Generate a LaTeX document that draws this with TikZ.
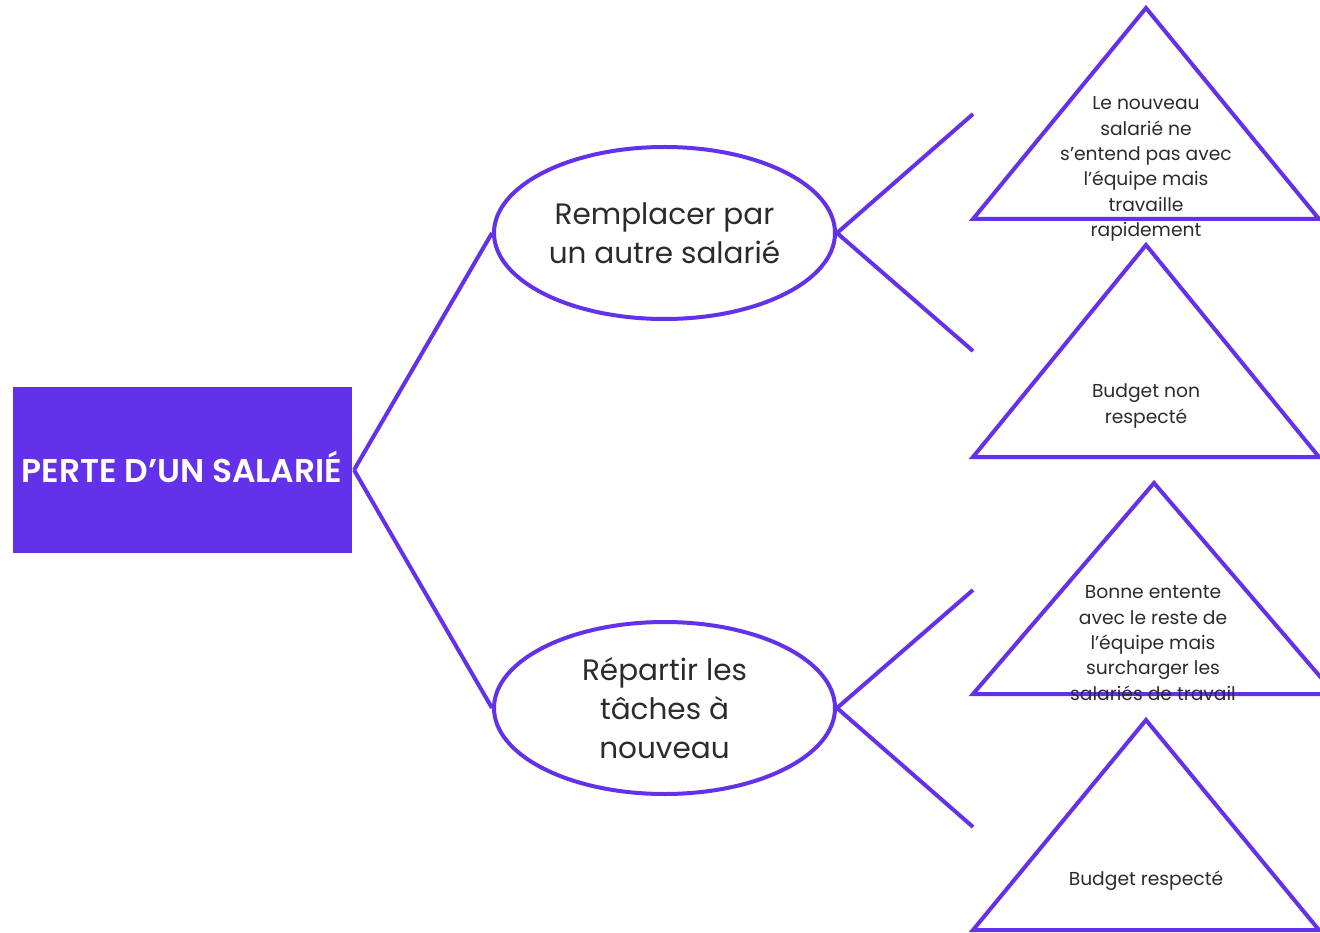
\documentclass[tikz,border=0pt]{standalone}
\usepackage{fontspec}
\setmainfont{Poppins}
\newfontfamily\semibold{Poppins SemiBold}
\usetikzlibrary{shapes.geometric}
\definecolor{violet}{HTML}{6331EA}
\definecolor{txt}{HTML}{2B2B2B}
\tikzset{
  conn/.style={draw=violet, line width=4pt},
  bubble/.style={ellipse, draw=violet, line width=4pt, minimum width=341pt, minimum height=172pt, inner sep=0pt,
     align=center, text=txt, font=\fontsize{29.5}{39}\selectfont},
  tri/.style={draw=violet, line width=4pt, line join=miter},
  tritext/.style={align=center, text=txt, font=\fontsize{18.7}{25.3}\selectfont, inner sep=0pt},
  titlebox/.style={fill=violet, minimum width=339pt, minimum height=166pt, inner sep=0pt},
  titletext/.style={text=white, font=\fontsize{32.9}{38}\semibold, inner sep=0pt}
}
\begin{document}
\begin{tikzpicture}[x=1pt,y=-1pt]
\useasboundingbox (0,0) rectangle (1320,933);
\node[titlebox] (root) at (182.5,470) {};
\node[titletext] (roottext) at (182,467) {PERTE D’UN SALARIÉ};
\coordinate (rootR) at (354,470);
\node[bubble] (e1) at (664.5,233) {Remplacer par\\un autre salarié};
\node[bubble] (e2) at (664.5,708) {Répartir les\\tâches à\\nouveau};
\draw[conn] (rootR) -- (e1.west);
\draw[conn] (rootR) -- (e2.west);
\coordinate (c1) at (973,114);
\coordinate (c2) at (973,351);
\coordinate (c3) at (973,590);
\coordinate (c4) at (973,827);
\draw[conn] (e1.east) -- (c1);
\draw[conn] (e1.east) -- (c2);
\draw[conn] (e2.east) -- (c3);
\draw[conn] (e2.east) -- (c4);
% triangles
\draw[tri] (973,219) -- (1146,8) -- (1319,219) -- cycle;
\draw[tri] (973,457) -- (1146,245) -- (1319,457) -- cycle;
\draw[tri] (973,694) -- (1154,483) -- (1335,694) -- cycle;
\draw[tri] (973,930) -- (1146,720) -- (1319,930) -- cycle;
\node[tritext] (t1) at (1146,169) {Le nouveau\\salarié ne\\s’entend pas avec\\l’équipe mais\\travaille\\rapidement};
\node[tritext] (t2) at (1146,406) {Budget non\\respecté};
\node[tritext] (t3) at (1153,643) {Bonne entente\\avec le reste de\\l’équipe mais\\surcharger les\\salariés de travail};
\node[tritext] (t4) at (1146,881) {Budget respecté};
\end{tikzpicture}
\end{document}
